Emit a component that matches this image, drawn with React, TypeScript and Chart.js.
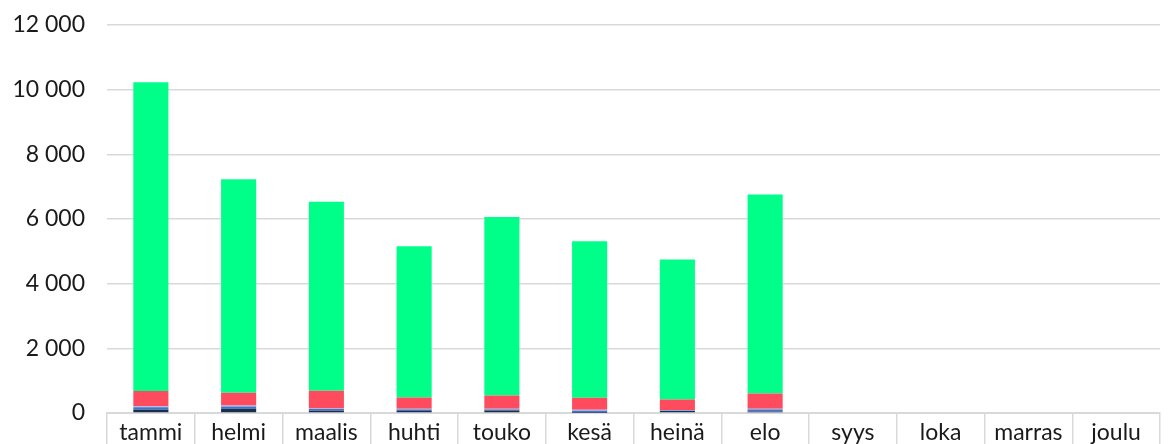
import React, { useEffect, useRef } from "react";
import { Chart, registerables } from "chart.js";

Chart.register(...registerables);

const categories = ["tammi", "helmi", "maalis", "huhti", "touko", "kesä", "heinä", "elo", "syys", "loka", "marras", "joulu"];
const navyValues = [100, 130, 70, 60, 80, 10, 60, 40, null, null, null, null];
const blueValues = [80, 70, 50, 50, 30, 50, 20, 70, null, null, null, null];
const lightBlueValues = [30, 30, 20, 20, 20, 40, 10, 20, null, null, null, null];
const redValues = [470, 400, 550, 350, 410, 370, 330, 470, null, null, null, null];
const greenValues = [9550, 6600, 5840, 4680, 5520, 4840, 4330, 6160, null, null, null, null];
const yTicks = [0, 2000, 4000, 6000, 8000, 10000, 12000];

const fmt = (v: number) => String(v).replace(/\B(?=(\d{3})+(?!\d))/g, " ");

export default function App() {
  const ref = useRef<HTMLCanvasElement | null>(null);
  useEffect(() => {
    if (!ref.current) return;
    const mk = (label: string, data: (number | null)[], color: string) => ({
      label,
      data,
      backgroundColor: color,
      borderWidth: 0,
      categoryPercentage: 1,
      barPercentage: 0.4,
    });
    const chart = new Chart(ref.current, {
      type: "bar",
      data: {
        labels: categories,
        datasets: [
          mk("s1", navyValues, "#16304d"),
          mk("s2", blueValues, "#4472c4"),
          mk("s3", lightBlueValues, "#9fb3ea"),
          mk("s4", redValues, "#ff4b5e"),
          mk("s5", greenValues, "#00ff88"),
        ],
      },
      options: {
        animation: false,
        responsive: false,
        maintainAspectRatio: false,
        layout: { padding: { left: 0, right: 8, top: 25, bottom: 0 } },
        plugins: { legend: { display: false }, tooltip: { enabled: false } },
        scales: {
          x: {
            stacked: true,
            offset: true,
            afterFit: (s: any) => {
              s.height = 31;
              s.paddingLeft = 0;
              s.paddingRight = 0;
            },
            grid: {
              offset: true,
              drawOnChartArea: false,
              drawTicks: true,
              tickLength: 40,
              color: "#d9d9d9",
              lineWidth: 1.5,
            },
            border: { display: true, color: "#d9d9d9", width: 2 },
            ticks: {
              padding: -34,
              color: "#1a1a1a",
              font: { family: "Lato", size: 23 },
              maxRotation: 0,
              autoSkip: false,
            },
          },
          y: {
            stacked: true,
            min: 0,
            max: 12000,
            afterFit: (s: any) => {
              s.width = 107;
              s.paddingTop = 0;
              s.paddingBottom = 0;
            },
            afterBuildTicks: (axis: any) => {
              axis.ticks = yTicks.map((v) => ({ value: v }));
            },
            grid: { color: "#d9d9d9", drawTicks: false, lineWidth: 1.5 },
            border: { display: false },
            ticks: {
              padding: 22,
              color: "#1a1a1a",
              font: { family: "Lato", size: 23 },
              callback: (v: any) => fmt(Number(v)),
            },
          },
        },
      },
    });
    return () => chart.destroy();
  }, []);
  return (
    <div style={{ position: "fixed", left: 0, top: 0, width: 1168, height: 444, background: "#fff" }}>
      <canvas ref={ref} width={1168} height={444} style={{ width: 1168, height: 444 }} />
    </div>
  );
}
